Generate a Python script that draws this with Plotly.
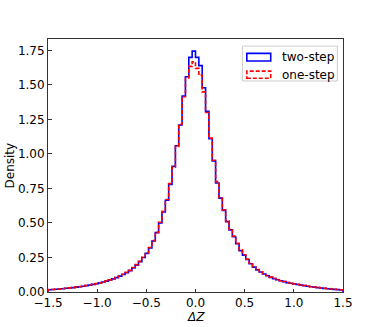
import numpy as np
import plotly.graph_objects as go

# histogram of delta Z, 88 equal bins between -1.5 and 1.5 (densities)
x_min, x_max = -1.5, 1.5
n_bins = 88

two_step = [
    0.016, 0.018, 0.020, 0.022, 0.024, 0.027, 0.029, 0.032, 0.035, 0.038,
    0.042, 0.046, 0.050, 0.055, 0.060, 0.066, 0.072, 0.079, 0.087, 0.095,
    0.104, 0.115, 0.127, 0.140, 0.155, 0.175, 0.195, 0.220, 0.250, 0.280,
    0.320, 0.370, 0.430, 0.500, 0.580, 0.665, 0.780, 0.910, 1.060, 1.210,
    1.420, 1.560, 1.700, 1.745,
    1.700, 1.640, 1.480, 1.310, 1.110, 0.950, 0.790, 0.680, 0.590, 0.510,
    0.450, 0.400, 0.350, 0.300, 0.266, 0.235, 0.205, 0.180, 0.160, 0.145,
    0.130, 0.118, 0.106, 0.097, 0.089, 0.081, 0.075, 0.068, 0.063, 0.058,
    0.054, 0.050, 0.046, 0.042, 0.038, 0.035, 0.032, 0.029, 0.026, 0.024,
    0.021, 0.019, 0.017, 0.015,
]

one_step = [
    0.017, 0.018, 0.021, 0.022, 0.025, 0.027, 0.030, 0.032, 0.036, 0.039,
    0.042, 0.047, 0.051, 0.055, 0.061, 0.066, 0.073, 0.080, 0.088, 0.096,
    0.106, 0.116, 0.129, 0.142, 0.157, 0.177, 0.198, 0.222, 0.252, 0.283,
    0.322, 0.372, 0.432, 0.505, 0.585, 0.670, 0.785, 0.905, 1.055, 1.215,
    1.415, 1.550, 1.635, 1.667,
    1.620, 1.570, 1.450, 1.300, 1.115, 0.955, 0.800, 0.685, 0.595, 0.515,
    0.455, 0.405, 0.352, 0.305, 0.270, 0.238, 0.208, 0.183, 0.162, 0.147,
    0.132, 0.120, 0.108, 0.098, 0.090, 0.082, 0.076, 0.069, 0.064, 0.059,
    0.055, 0.051, 0.047, 0.043, 0.039, 0.036, 0.033, 0.030, 0.027, 0.025,
    0.022, 0.020, 0.018, 0.016,
]

x_ticks = [-1.5, -1.0, -0.5, 0.0, 0.5, 1.0, 1.5]
y_ticks = [0.0, 0.25, 0.5, 0.75, 1.0, 1.25, 1.5, 1.75]

edges = np.linspace(x_min, x_max, n_bins + 1)


def step_xy(vals):
    # outline like matplotlib histtype='step'
    xs = [edges[0]] + list(edges) + [edges[-1]]
    ys = [0] + list(vals) + [vals[-1], 0]
    return xs, ys


fig = go.Figure()
xs, ys = step_xy(two_step)
fig.add_trace(go.Scatter(x=xs, y=ys, mode='lines', line_shape='hv', name='two-step',
                         line=dict(color='#0000ff', width=1.6), showlegend=False))
xs, ys = step_xy(one_step)
fig.add_trace(go.Scatter(x=xs, y=ys, mode='lines', line_shape='hv', name='one-step',
                         line=dict(color='#ff0000', width=1.6, dash='4px,2px'), showlegend=False))

font = dict(family='DejaVu Sans', size=12, color='black')
axis = dict(showgrid=False, zeroline=False, showline=True, linecolor='#333', linewidth=1,
            mirror=True, ticks='inside', ticklen=3.5, tickcolor='#333', tickfont=font)

fig.update_xaxes(range=[x_min, x_max], tickvals=x_ticks, tickformat='.1f', **axis)
fig.update_yaxes(range=[0, 1.833], tickvals=y_ticks, tickformat='.2f', **axis)

# legend drawn by hand so the keys are rectangles as in matplotlib
shapes = [
    dict(type='rect', xref='paper', yref='paper', x0=0.659, x1=0.981, y0=0.834, y1=0.972,
         line=dict(color='#cccccc', width=1), fillcolor='rgba(255,255,255,0.8)', layer='above'),
    dict(type='rect', xref='paper', yref='paper', x0=0.674, x1=0.755, y0=0.913, y1=0.943,
         line=dict(color='#0000ff', width=1.6), layer='above'),
    dict(type='rect', xref='paper', yref='paper', x0=0.674, x1=0.755, y0=0.845, y1=0.873,
         line=dict(color='#ff0000', width=1.6, dash='4px,2px'), layer='above'),
]
annotations = [
    dict(text='two-step', xref='paper', yref='paper', x=0.785, y=0.928, xanchor='left',
         yanchor='middle', showarrow=False, font=font),
    dict(text='one-step', xref='paper', yref='paper', x=0.785, y=0.859, xanchor='left',
         yanchor='middle', showarrow=False, font=font),
    dict(text='Density', xref='paper', yref='paper', x=-0.129, y=0.5, textangle=-90,
         xanchor='center', yanchor='middle', showarrow=False, font=font),
    dict(text='<i>ΔZ</i>', xref='paper', yref='paper', x=0.5, y=-0.1,
         xanchor='center', yanchor='middle', showarrow=False, font=font),
]

fig.update_layout(width=382, height=327, margin=dict(l=48, r=39, t=39, b=35),
                  plot_bgcolor='white', paper_bgcolor='white', shapes=shapes,
                  annotations=annotations, font=font)

# drop the default 8px page margin so the figure fills the window exactly
fig.write_html("out.html", config={'displayModeBar': False},
               post_script="document.body.style.margin='0';")
